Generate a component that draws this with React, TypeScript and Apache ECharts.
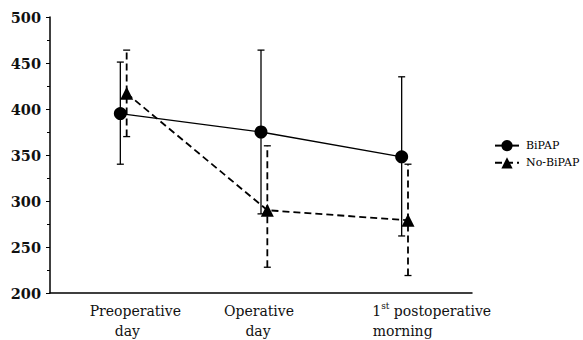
import React, { useEffect, useRef } from "react";
import * as echarts from "echarts";

const categories = ["Preoperative day", "Operative day", "1st postoperative morning"];
const yTicks = { min: 200, max: 500, interval: 50 };

const bipapMean = [395, 375, 348];
const bipapUpper = [451, 464, 435];
const bipapLower = [340, 286, 262];

const noBipapMean = [417, 290, 279];
const noBipapUpper = [464, 360, 340];
const noBipapLower = [370, 228, 219];

const NO_BIPAP_SHIFT = 0.045;
const FONT = "DejaVu Serif";

function errorBar(dashed: boolean) {
  return (params: any, api: any) => {
    const x = api.value(0);
    const lo = api.coord([x, api.value(1)]);
    const hi = api.coord([x, api.value(2)]);
    const cw = 3.5;
    const lw = dashed ? 1.8 : 1.3;
    return {
      type: "group",
      children: [
        {
          type: "line",
          shape: { x1: lo[0], y1: lo[1], x2: hi[0], y2: hi[1] },
          style: { stroke: "#000", lineWidth: lw, lineDash: dashed ? [7, 4] : null },
        },
        {
          type: "line",
          shape: { x1: hi[0] - cw, y1: hi[1], x2: hi[0] + cw, y2: hi[1] },
          style: { stroke: "#000", lineWidth: 1.3 },
        },
        {
          type: "line",
          shape: { x1: lo[0] - cw, y1: lo[1], x2: lo[0] + cw, y2: lo[1] },
          style: { stroke: "#000", lineWidth: 1.3 },
        },
      ],
    };
  };
}

export default function App() {
  const ref = useRef<HTMLDivElement>(null);
  useEffect(() => {
    if (!ref.current) return;
    const chart = echarts.init(ref.current, null, { renderer: "svg" });
    const option: any = {
      animation: false,
      backgroundColor: "#fff",
      grid: { left: 50, right: 111, top: 17, bottom: 47, containLabel: false },
      legend: {
        data: ["BiPAP", "No-BiPAP"],
        orient: "vertical",
        left: 489,
        top: 135,
        itemWidth: 24,
        itemHeight: 14,
        itemGap: 6,
        textStyle: { fontFamily: FONT, fontSize: 11, color: "#000", padding: [0, 0, 0, 2] },
      },
      xAxis: [
        {
          type: "category",
          data: categories,
          boundaryGap: true,
          axisLine: { onZero: false, lineStyle: { color: "#000", width: 1.5 } },
          axisTick: { alignWithLabel: true, length: 3, lineStyle: { color: "#000" } },
          axisLabel: {
            margin: 8,
            interval: 0,
            color: "#111",
            fontFamily: FONT,
            fontSize: 14,
            formatter: (v: string, i: number) => {
              if (i === 0) return "{a0|Preoperative}\n{b0|day}";
              if (i === 1) return "{a1|Operative}\n{b1|day}";
              return "{n|1}{s|st}{t| postoperative}\n{b2|morning}";
            },
            rich: {
              a0: { fontFamily: FONT, fontSize: 14, lineHeight: 20, padding: [0, 0, 0, 30] },
              b0: { fontFamily: FONT, fontSize: 14, lineHeight: 20, padding: [0, 0, 0, 14] },
              a1: { fontFamily: FONT, fontSize: 14, lineHeight: 20, padding: [0, 4, 0, 0] },
              b1: { fontFamily: FONT, fontSize: 14, lineHeight: 20, padding: [0, 6, 0, 0] },
              n: { fontFamily: FONT, fontSize: 14, lineHeight: 20, padding: [0, 0, 0, 60] },
              s: { fontFamily: FONT, fontSize: 9, lineHeight: 20, verticalAlign: "top" },
              t: { fontFamily: FONT, fontSize: 14, lineHeight: 20 },
              b2: { fontFamily: FONT, fontSize: 14, lineHeight: 20, padding: [0, 0, 0, 2] },
            },
          },
          splitLine: { show: false },
        },
        {
          type: "value",
          show: false,
          min: -0.5,
          max: 2.5,
          axisLine: { onZero: false },
          splitLine: { show: false },
        },
      ],
      yAxis: {
        type: "value",
        min: yTicks.min,
        max: yTicks.max,
        interval: yTicks.interval,
        axisLine: { show: true, onZero: false, lineStyle: { color: "#000", width: 1.5 } },
        axisTick: { show: true, length: 4, lineStyle: { color: "#000" } },
        minorTick: { show: true, splitNumber: 2, length: 3, lineStyle: { color: "#000" } },
        splitLine: { show: false },
        axisLabel: {
          margin: 9,
          color: "#111",
          fontFamily: FONT,
          fontSize: 14.5,
          fontWeight: "bold",
        },
      },
      series: [
        {
          name: "BiPAP-err",
          type: "custom",
          xAxisIndex: 1,
          yAxisIndex: 0,
          renderItem: errorBar(false),
          encode: { x: 0, y: [1, 2] },
          data: bipapMean.map((_, i) => [i, bipapLower[i], bipapUpper[i]]),
          z: 1,
        },
        {
          name: "No-BiPAP-err",
          type: "custom",
          xAxisIndex: 1,
          yAxisIndex: 0,
          renderItem: errorBar(true),
          encode: { x: 0, y: [1, 2] },
          data: noBipapMean.map((_, i) => [i + NO_BIPAP_SHIFT, noBipapLower[i], noBipapUpper[i]]),
          z: 1,
        },
        {
          name: "BiPAP",
          type: "line",
          xAxisIndex: 1,
          yAxisIndex: 0,
          data: bipapMean.map((v, i) => [i, v]),
          symbol: "circle",
          symbolSize: 13,
          itemStyle: { color: "#000" },
          lineStyle: { color: "#000", width: 1.3, type: "solid" },
          z: 3,
        },
        {
          name: "No-BiPAP",
          type: "line",
          xAxisIndex: 1,
          yAxisIndex: 0,
          data: noBipapMean.map((v, i) => [i + NO_BIPAP_SHIFT, v]),
          symbol: "triangle",
          symbolSize: 13,
          itemStyle: { color: "#000" },
          lineStyle: { color: "#000", width: 1.8, type: [7, 4] },
          z: 3,
        },
      ],
    };
    chart.setOption(option);
    return () => chart.dispose();
  }, []);
  return <div ref={ref} style={{ width: 583, height: 340, position: "absolute", left: 0, top: 0 }} />;
}
